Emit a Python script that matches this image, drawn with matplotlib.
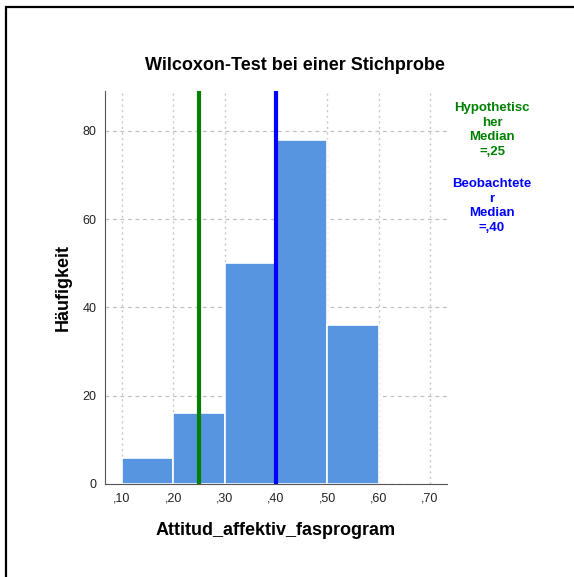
import numpy as np
import matplotlib
matplotlib.use("Agg")
import matplotlib.pyplot as plt
from matplotlib.patches import Rectangle

plt.rcParams['font.family'] = ['Liberation Sans', 'DejaVu Sans']

# histogram data
bin_edges = [0.10, 0.20, 0.30, 0.40, 0.50, 0.60]
counts = [6, 16, 50, 78, 36]
hyp_median = 0.25
obs_median = 0.40
xticks = [0.10, 0.20, 0.30, 0.40, 0.50, 0.60, 0.70]
xtick_labels = [",10", ",20", ",30", ",40", ",50", ",60", ",70"]
yticks = [0, 20, 40, 60, 80]

fig = plt.figure(figsize=(5.74, 5.77), dpi=100)
# outer frame (only top and left edges show in the crop)
fig.patches.append(Rectangle((6/574, -0.1), 1.2, 1.1 - 7/577, transform=fig.transFigure,
                             fill=False, edgecolor='black', linewidth=1.6))

ax = fig.add_axes([105/574, 93/577, 342/574, 393/577])

ax.bar(bin_edges[:-1], counts, width=np.diff(bin_edges), align='edge',
       color='#5895e0', edgecolor='white', linewidth=1.2, zorder=2)
ax.axvline(hyp_median, color='#008000', linewidth=3, zorder=3)
ax.axvline(obs_median, color='#0000ff', linewidth=3, zorder=3)

ax.set_xlim(0.0669, 0.733)
ax.set_ylim(0, 89)
ax.set_xticks(xticks)
ax.set_xticklabels(xtick_labels)
ax.set_yticks(yticks)
ax.tick_params(labelsize=9, length=0, pad=6, colors='#222222')
ax.yaxis.grid(True, color='#c0c0c0', linestyle=(0, (3, 3)), linewidth=0.9)
ax.xaxis.grid(True, color='#c8c8c8', linestyle=(0, (1.5, 2.5)), linewidth=1.0)
ax.set_axisbelow(True)
for s in ['top', 'right']:
    ax.spines[s].set_visible(False)
for s in ['left', 'bottom']:
    ax.spines[s].set_color('#555555')

fig.text(295/574, 1 - 66/577, "Wilcoxon-Test bei einer Stichprobe", fontsize=13,
         fontweight='bold', ha='center', va='center')
ax.set_xlabel("Attitud_affektiv_fasprogram", fontsize=13, fontweight='bold', labelpad=13)
ax.set_ylabel("Häufigkeit", fontsize=13, fontweight='bold', labelpad=8)

fig.text(492/574, 1 - 130/577, "Hypothetisc\nher\nMedian\n=,25", color='#008000',
         fontsize=9.5, fontweight='bold', ha='center', va='center', linespacing=1.3)
fig.text(492/574, 1 - 206/577, "Beobachtete\nr\nMedian\n=,40", color='#0000ff',
         fontsize=9.5, fontweight='bold', ha='center', va='center', linespacing=1.3)

fig.savefig("out.png", dpi=100)
